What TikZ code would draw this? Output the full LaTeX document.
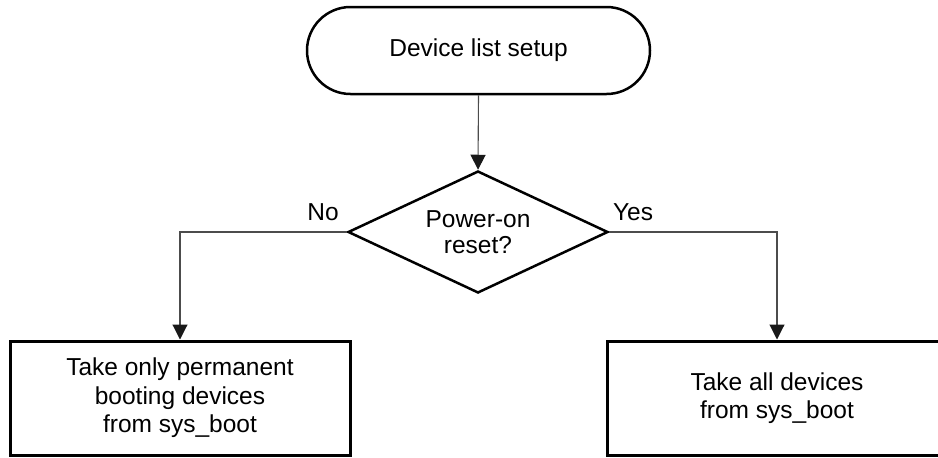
\documentclass[tikz,border=0pt]{standalone}
\usepackage{fontspec}
\setmainfont{Liberation Sans}
\usetikzlibrary{shapes.geometric,arrows.meta}
\begin{document}
\begin{tikzpicture}[x=1pt,y=-1pt,
  every node/.style={font=\fontsize{24.5}{28.5}\selectfont, text=black},
  term/.style={draw=black, line width=2.5pt, rectangle, rounded corners=43.5pt,
    minimum width=343pt, minimum height=87pt, inner sep=0pt},
  dec/.style={draw=black, line width=2.5pt, diamond, aspect=2.13,
    minimum width=260pt, minimum height=122pt, inner sep=0pt, align=center,
    font=\fontsize{24.5}{25.5}\selectfont},
  procbox/.style={draw=black, line width=3pt, rectangle,
    minimum width=340pt, minimum height=114pt, inner sep=0pt, align=center},
  conn/.style={draw=black!70, line width=1.1pt,
    -{Triangle[width=15pt,length=15pt,black!90]}},
  lbl/.style={inner sep=0pt}
]
\useasboundingbox (0,0) rectangle (938,458);
\node[term] (start) at (478.5,50.5) {Device list setup};
\node[dec] (dec) at (478,232) {Power-on\\reset?};
\node[procbox] (left) at (180,398) {Take only permanent\\booting devices\\from sys\_boot};
\node[procbox] (right) at (777,398) {Take all devices\\from sys\_boot};
\node[lbl] (no) at (323,212) {No};
\node[lbl] (yes) at (633,212) {Yes};
\draw[conn] (start.south) -- (dec.north);
\draw[conn] (dec.west) -| (left.north);
\draw[conn] (dec.east) -| (right.north);
\end{tikzpicture}
\end{document}
